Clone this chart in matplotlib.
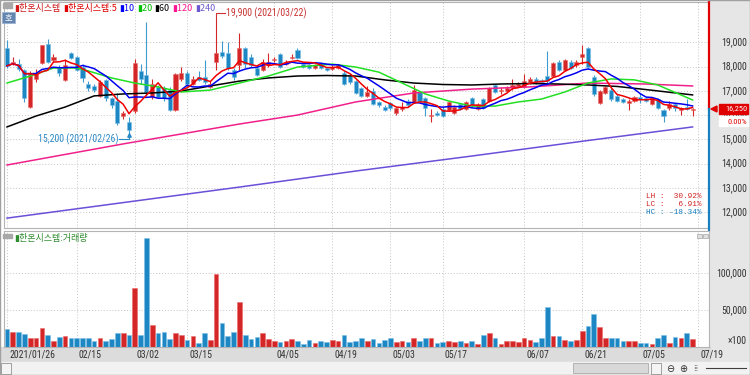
import numpy as np
import pandas as pd
import matplotlib
matplotlib.use('Agg')
import matplotlib.pyplot as plt
from matplotlib.patches import Rectangle, Polygon
from matplotlib import font_manager
from matplotlib.font_manager import FontProperties

# ---------------- data ----------------
start_date = '2021-01-26'
end_date = '2021-07-19'
holidays = ['2021-02-11', '2021-02-12', '2021-03-01', '2021-05-05', '2021-05-19']

opens = [18760, 18150, 18100, 17850, 16350, 17500, 18150, 18950, 18250, 17950,
         17450, 18550, 18400, 17980, 17300, 17200, 16800, 17450, 16700, 16600,
         15950, 15700, 16150, 17800, 17650, 16750, 17150, 17100, 17050, 16200,
         17500, 17750, 17300, 17550, 17560, 17150, 18200, 18600, 18550, 17850,
         18050, 18750, 18400, 17950, 17850, 18050, 18250, 18500, 18100, 18350,
         18700, 18100, 18050, 17950, 18150, 17950, 17900, 17950, 17750, 17600,
         17400, 17100, 16800, 17000, 16550, 16350, 16500, 16100, 16250, 16600,
         16550, 16950, 16700, 15950, 16100, 16250, 16200, 16100, 16450, 16250,
         16700, 16250, 16650, 16600, 17250, 17000, 17000, 17150, 17200, 17150,
         17350, 17500, 17450, 17600, 17600, 18200, 17850, 18200, 18050, 18400,
         18750, 17550, 16500, 16900, 17050, 16800, 16650, 16500, 16600, 16750,
         16700, 16450, 16650, 16200, 16300, 16450, 16200, 16350, 16200]
highs = [19100, 18400, 18300, 17900, 17800, 17900, 18900, 19150, 18500, 18050,
         18300, 18600, 18450, 18100, 17400, 17300, 17450, 17500, 16750, 16900,
         16150, 15900, 18300, 18100, 19850, 17500, 17250, 17200, 17150, 17750,
         18000, 17800, 17600, 17800, 18250, 17400, 19900, 19050, 19000, 17950,
         19400, 18800, 18500, 18050, 18300, 18550, 18400, 18550, 18250, 18500,
         18750, 18150, 18100, 18100, 18200, 18000, 18050, 18100, 17800, 17650,
         17450, 17150, 17200, 17100, 16600, 16400, 16550, 16350, 16550, 16650,
         17250, 17000, 16750, 16250, 16150, 16350, 16600, 16400, 16500, 16600,
         16750, 16500, 16700, 17150, 17300, 17150, 17200, 17500, 17350, 17700,
         17550, 17550, 17500, 18650, 18200, 18250, 18300, 18250, 18250, 18900,
         18800, 17650, 17050, 17200, 17100, 16850, 16700, 16650, 16800, 16900,
         16750, 16750, 16700, 16250, 16600, 16500, 16350, 16650, 16300]
lows = [17950, 18050, 17800, 16550, 16300, 17350, 18100, 18150, 18200, 17600,
        17400, 18300, 17800, 17350, 17000, 16950, 16750, 16600, 16300, 15600,
        15850, 15200, 16100, 17300, 16800, 16650, 16700, 16600, 16150, 16150,
        17400, 17100, 17250, 17400, 17300, 17100, 17850, 18350, 17850, 17450,
        17850, 17950, 18000, 17600, 17800, 18000, 18200, 17950, 18050, 18300,
        18300, 17950, 17900, 17900, 17900, 17800, 17850, 17900, 17250, 17300,
        16850, 16750, 16750, 16400, 16350, 16150, 16200, 16000, 16150, 16350,
        16500, 16550, 15950, 15700, 15950, 15900, 16150, 16050, 16200, 16200,
        16350, 16200, 16250, 16550, 16900, 16850, 16950, 17050, 17150, 17100,
        17300, 17300, 17300, 17300, 17550, 17800, 17800, 17900, 18000, 18100,
        17950, 16800, 16450, 16850, 16600, 16550, 16500, 16200, 16550, 16500,
        16550, 16400, 16250, 15700, 16200, 16150, 16000, 16200, 15950]
closes = [18030, 18200, 17900, 16700, 17700, 17750, 18880, 18200, 18400, 17750,
          18050, 18350, 17850, 17530, 17100, 17050, 17350, 16700, 16400, 15680,
          16100, 15400, 18150, 17500, 16950, 17300, 16750, 16700, 16200, 17700,
          17720, 17300, 17500, 17450, 17350, 17300, 18550, 18420, 17950, 17550,
          18760, 18100, 18060, 17650, 18200, 18180, 18320, 18000, 18150, 18400,
          18350, 18000, 17950, 18050, 17950, 17850, 18000, 18050, 17300, 17350,
          16900, 16800, 16950, 16450, 16400, 16200, 16300, 16300, 16350, 16400,
          17050, 16600, 16300, 16000, 16000, 15950, 16550, 16350, 16250, 16550,
          16400, 16450, 16300, 17100, 16950, 17050, 17100, 17250, 17300, 17400,
          17500, 17350, 17350, 17400, 18150, 17850, 18250, 17950, 18200, 18500,
          18000, 16850, 17000, 17150, 16650, 16600, 16550, 16600, 16750, 16650,
          16600, 16700, 16300, 15950, 16450, 16300, 16300, 16250, 16250]
volumes = [24800, 19700, 20600, 17400, 12800, 11500, 25200, 16500, 8300, 13700,
           15200, 12800, 11500, 12400, 12400, 8700, 11500, 7800, 10600, 18300,
           19300, 16500, 79500, 15600, 147400, 29900, 18900, 20600, 10600, 18300,
           15600, 10100, 14200, 6000, 18300, 10100, 98800, 33000, 14200, 20200,
           61000, 15600, 10600, 13800, 18300, 10600, 7800, 6900, 8300, 10600,
           8300, 4600, 10100, 5500, 7800, 6900, 10100, 7800, 16500, 6900,
           8700, 11500, 8300, 10600, 5500, 10100, 12400, 6900, 8300, 6900,
           11500, 8300, 12400, 12400, 5500, 6900, 7800, 6900, 7800, 5500,
           7800, 4300, 16500, 18300, 11500, 4600, 8300, 8300, 6900, 11500,
           10100, 6900, 12400, 54200, 15200, 14200, 10100, 8300, 10100, 22000,
           28900, 44500, 26600, 11500, 11500, 12800, 8300, 8300, 8300, 5000,
           5000, 4300, 12800, 16500, 5500, 13800, 11500, 18900, 10600]

# long moving averages (candle index, value)
ma20_idx = [0, 4, 8, 12, 14, 18, 22, 26, 30, 35, 40, 45, 50, 56, 60, 64, 68, 72, 76,
            80, 84, 88, 92, 96, 100, 104, 108, 112, 116, 118]
ma20_val = [17320, 17610, 17940, 17940, 17820, 17530, 17320, 17160, 16950, 17030,
            17320, 17610, 17980, 18100, 17980, 17770, 17320, 16870, 16580, 16370,
            16370, 16540, 16660, 16950, 17320, 17490, 17450, 17240, 16830, 16620]
ma60_idx = [0, 5, 10, 15, 20, 25, 30, 35, 40, 45, 50, 55, 60, 65, 70, 75, 80, 85, 90,
            95, 100, 105, 110, 118]
ma60_val = [15510, 15960, 16330, 16790, 16870, 16910, 16990, 17200, 17400, 17530,
            17610, 17630, 17610, 17450, 17320, 17260, 17240, 17280, 17300, 17280,
            17240, 17180, 17050, 16830]
ma120_idx = [0, 20, 30, 40, 50, 60, 70, 80, 90, 100, 110, 118]
ma120_val = [13940, 14810, 15220, 15630, 16000, 16540, 16910, 17070, 17160, 17320,
             17280, 17200]
ma240_idx = [0, 20, 40, 60, 80, 100, 118]
ma240_val = [11750, 12390, 13030, 13690, 14310, 14950, 15510]

price_ticks = [12000, 13000, 14000, 15000, 16000, 17000, 18000, 19000]
volume_ticks = [50000, 100000]
tick_dates = ['2021-01-26', '2021-02-15', '2021-03-02', '2021-03-15', '2021-04-05',
              '2021-04-19', '2021-05-03', '2021-05-17', '2021-06-07', '2021-06-21',
              '2021-07-05', '2021-07-19']
tick_labels = ['2021/01/26', '02/15', '03/02', '03/15', '04/05', '04/19', '05/03',
               '05/17', '06/07', '06/21', '07/05', '07/19']
stock_name = '한온시스템'
legend_items = [('▮' + stock_name, '#d01818'), ('▮' + stock_name + ':5', '#e00000'),
                ('▮10', '#0000ff'), ('▮20', '#00c000'), ('▮60', '#000000'),
                ('▮120', '#ff1493'), ('▮240', '#6a5acd')]
volume_title = '▮' + stock_name + ':거래량'

# ---------------- derived ----------------
days = pd.bdate_range(start_date, end_date)
days = days[~days.isin(pd.to_datetime(holidays))]
n = len(closes)
idx = np.arange(n)
o = np.array(opens); h = np.array(highs); l = np.array(lows); c = np.array(closes)
v = np.array(volumes)
cs = pd.Series(closes)
ma5 = cs.rolling(5, min_periods=1).mean()
ma10 = cs.rolling(10, min_periods=1).mean()
pos = {d.strftime('%Y-%m-%d'): i for i, d in enumerate(days)}
tick_pos = [pos[d] for d in tick_dates]

# ---------------- fonts ----------------
fnames = [f.fname for f in font_manager.fontManager.ttflist]
narrow_file, narrow_size = None, 7.3
for key, size in (('LiberationSansNarrow-Regular', 7.3), ('RobotoCondensed-Regular', 7.0),
                  ('DejaVuSansCondensed.ttf', 6.5)):
    hits = [f for f in fnames if key in f]
    if hits:
        narrow_file, narrow_size = hits[0], size
        break


def numfont(scale=1.0):
    if narrow_file:
        return dict(fontproperties=FontProperties(fname=narrow_file,
                                                  size=narrow_size * scale))
    return dict(family='Liberation Sans', fontsize=6.4 * scale)


MONO = 'Liberation Mono'
KR = ['Noto Sans CJK KR', 'DejaVu Sans']

# ---------------- layout (pixels) ----------------
W, H = 750, 375
PXL, PXR = 4, 709
TOP0, TOP1 = 2, 228
VOL0, VOL1 = 231, 347
X0, STEP = 7.0, 5.81
PY_REF, P_REF, PX_PER_1000 = 42.3, 19000, 24.25


def fx(px):
    return px / W


def fy(py):
    return 1 - py / H


def price_at(py):
    return P_REF - (py - PY_REF) * 1000 / PX_PER_1000


def ax_x(px):
    return (px - PXL) / (PXR - PXL)


RED = '#d42626'
RED_E = '#e86a6a'
BLUE = '#1d87c4'
BLUE_E = '#7cc0e6'

fig = plt.figure(figsize=(7.5, 3.75), dpi=100, facecolor='white')

# background panels (behind the axes)
fig.patches.append(Rectangle((fx(710), 0), fx(40), 1, transform=fig.transFigure,
                             color='#e6e6e6', zorder=-5))
fig.patches.append(Rectangle((0, fy(362)), fx(710), fy(347) - fy(362),
                             transform=fig.transFigure, color='#dcdcdc', zorder=-5))
fig.patches.append(Rectangle((0, 0), 1, fy(362), transform=fig.transFigure,
                             color='#f2f2f2', zorder=-5))

ax = fig.add_axes([fx(PXL), fy(TOP1), fx(PXR - PXL), fy(TOP0) - fy(TOP1)])
axv = fig.add_axes([fx(PXL), fy(VOL1), fx(PXR - PXL), fy(VOL0) - fy(VOL1)])

xlim = ((PXL - X0) / STEP, (PXR - X0) / STEP)
for a in (ax, axv):
    a.set_xlim(*xlim)
    a.set_xticks([])
    a.set_yticks([])
    for s in a.spines.values():
        s.set_color('#b4b4b4')
        s.set_linewidth(0.8)
    for t in tick_pos:
        a.axvline(t, color='#c4c4c4', lw=0.7, ls=(0, (1, 2)), zorder=0)

ax.set_ylim(price_at(TOP1), price_at(TOP0))
vmax = (VOL1 - VOL0) / 74 * 100000
axv.set_ylim(0, vmax)
for p in price_ticks:
    ax.axhline(p, color='#c4c4c4', lw=0.7, ls=(0, (1, 2)), zorder=0)
for vt in volume_ticks:
    axv.axhline(vt, color='#c4c4c4', lw=0.7, ls=(0, (1, 2)), zorder=0)

# candles
bw = 0.7
for i in idx:
    up = c[i] >= o[i]
    col, ec = (RED, RED_E) if up else (BLUE, BLUE_E)
    ax.plot([i, i], [l[i], h[i]], color=col if up else '#3d9bd2', lw=0.8, zorder=2,
            solid_capstyle='butt')
    lo_b, hi_b = min(o[i], c[i]), max(o[i], c[i])
    if hi_b - lo_b < 40:
        ax.plot([i - bw / 2, i + bw / 2], [c[i], c[i]], color=col, lw=1.0, zorder=3)
    else:
        ax.add_patch(Rectangle((i - bw / 2, lo_b), bw, hi_b - lo_b, facecolor=col,
                               edgecolor=ec, lw=0.4, zorder=3))

# moving averages
ax.plot(ma240_idx, ma240_val, color='#6a4fd8', lw=1.1, zorder=4)
ax.plot(ma120_idx, ma120_val, color='#f0208a', lw=1.1, zorder=4)
ax.plot(ma60_idx, ma60_val, color='#000000', lw=1.1, zorder=4)
ax.plot(ma20_idx, ma20_val, color='#22e022', lw=1.1, zorder=4)
ax.plot(idx, ma10, color='#0000f0', lw=1.1, zorder=5)
ax.plot(idx, ma5, color='#f00000', lw=1.1, zorder=6)

# volume bars
vcols = [RED if c[i] >= o[i] else BLUE for i in idx]
vecs = [RED_E if c[i] >= o[i] else BLUE_E for i in idx]
axv.bar(idx, v, width=0.8, color=vcols, edgecolor=vecs, linewidth=0.4, zorder=2)

# right border coloured by current price
last = c[-1]
ax.spines['right'].set_visible(False)
ax.plot([1, 1], [last, price_at(TOP0)], transform=ax.get_yaxis_transform(),
        color='#e00000', lw=1.6, clip_on=False, zorder=7)
ax.plot([1, 1], [price_at(TOP1 + 2), last], transform=ax.get_yaxis_transform(),
        color='#1a7fc0', lw=1.6, clip_on=False, zorder=7)

# price axis labels
for p in price_ticks:
    ax.text(ax_x(747), p, f'{p:,}', transform=ax.get_yaxis_transform(), ha='right',
            va='center', color='#333333', **numfont())
for vt in volume_ticks:
    axv.text(ax_x(747), vt, f'{vt:,}', transform=axv.get_yaxis_transform(), ha='right',
             va='center', color='#333333', **numfont())
axv.text(ax_x(747), 7500, '×100', transform=axv.get_yaxis_transform(), ha='right',
         va='center', color='#333333', **numfont())

# current price marker
ypx = 1000 / PX_PER_1000  # price per pixel
ax.add_patch(Polygon([[ax_x(711), last], [ax_x(717), last + 3 * ypx],
                      [ax_x(717), last - 3 * ypx]],
                     closed=True, transform=ax.get_yaxis_transform(), color='#e00000',
                     clip_on=False, zorder=8))
ax.add_patch(Rectangle((ax_x(719), last - 5 * ypx), ax_x(748) - ax_x(719), 10 * ypx,
                       transform=ax.get_yaxis_transform(), color='#e00000',
                       clip_on=False, zorder=8))
ax.text(ax_x(747), last + 1.0 * ypx, f'{last:,}', transform=ax.get_yaxis_transform(),
        ha='right', va='center', color='white', zorder=9, **numfont(0.85))
chg = (c[-1] - c[-2]) / c[-2] * 100
ax.add_patch(Rectangle((ax_x(719), price_at(126)), ax_x(748) - ax_x(719), 10 * ypx,
                       transform=ax.get_yaxis_transform(), color='white',
                       clip_on=False, zorder=8))
ax.text(ax_x(747), price_at(122), f'{chg:.2f}%', transform=ax.get_yaxis_transform(),
        ha='right', va='center', color='#e00000', zorder=9, **numfont(0.85))

# high / low annotations
ih = int(np.argmax(h)); il = int(np.argmin(l))
hi, lo = h[ih], l[il]
ax.plot([ih, ih, ih + 9 / STEP], [hi, hi + 7.5 * ypx, hi + 7.5 * ypx], color='#d03030',
        lw=0.8, zorder=8)
ax.text(ih + 10 / STEP, hi + 7.5 * ypx, f"{hi:,} ({days[ih].strftime('%Y/%m/%d')})",
        ha='left', va='center', color='#c83030', zorder=9, **numfont())
ax.plot([il, il, il - 10 / STEP], [lo, lo - 4.5 * ypx, lo - 4.5 * ypx], color='#2a8ac8',
        lw=0.8, zorder=8)
ax.plot([il], [lo - 0.8 * ypx], marker='^', ms=2.5, color='#2a8ac8', zorder=8)
ax.text(il - 11 / STEP, lo - 4.5 * ypx, f"{lo:,} ({days[il].strftime('%Y/%m/%d')})",
        ha='right', va='center', color='#2a8ac8', zorder=9, **numfont())

# LH / LC / HC
lh = (hi - lo) / lo * 100
lc = (last - lo) / lo * 100
hc = (last - hi) / hi * 100
for k, (lab, val, col) in enumerate([('LH', lh, '#d02020'), ('LC', lc, '#d02020'),
                                     ('HC', hc, '#1a7fc0')]):
    fig.text(fx(702), fy(197 + 8 * k), f'{lab} : {val:6.2f}%', ha='right', va='center',
             fontsize=5.6, family=MONO, color=col)

# legend (top)
fig.patches.append(Rectangle((fx(3), fy(8)), fx(9), fy(3) - fy(8), transform=fig.transFigure,
                             color='#a8a8a8', zorder=5))
renderer = fig.canvas.get_renderer()
xpos = 14
for txt, col in legend_items:
    t = fig.text(fx(xpos), fy(8), txt, ha='left', va='center', fontsize=6.5, family=KR,
                 color=col)
    bb = t.get_window_extent(renderer=renderer)
    xpos += bb.width + 2.5

fig.patches.append(Rectangle((fx(2), fy(23)), fx(13), fy(12) - fy(23),
                             transform=fig.transFigure, fc='#6485b0', ec='#9ab2d0',
                             lw=0.6, zorder=5))
fig.text(fx(8.5), fy(17.5), '호', ha='center', va='center', fontsize=6, family=KR,
         color='white', zorder=6)

# volume title
fig.patches.append(Rectangle((fx(3), fy(238)), fx(9), fy(234) - fy(238),
                             transform=fig.transFigure, color='#a8a8a8', zorder=5))
fig.text(fx(14), fy(239), volume_title, ha='left', va='center', fontsize=6.5, family=KR,
         color='#2e8b2e')
for bx in (697, 703):
    fig.patches.append(Rectangle((fx(bx), fy(238)), fx(5), fy(234) - fy(238),
                                 transform=fig.transFigure, fc='#e0e0e0', ec='#909090',
                                 lw=0.4, zorder=5))

# date labels
for t, lab in zip(tick_pos, tick_labels):
    px = X0 + t * STEP
    fig.text(fx(px + 2), fy(355), lab, ha='left', va='center', color='#333333',
             **numfont())

# scroll bar decorations
fig.patches.append(Rectangle((fx(1), fy(374)), fx(10), fy(363) - fy(374),
                             transform=fig.transFigure, fc='#f4f4f4', ec='#808080',
                             lw=0.5, zorder=5))
fig.text(fx(6), fy(368.5), '◀', ha='center', va='center', fontsize=4, color='#202020')
fig.patches.append(Rectangle((fx(573), fy(373)), fx(75), fy(363) - fy(373),
                             transform=fig.transFigure, fc='#d8d8d8', ec='#a0a0a0',
                             lw=0.5, zorder=5))
fig.patches.append(Rectangle((fx(651), fy(374)), fx(10), fy(363) - fy(374),
                             transform=fig.transFigure, fc='#f4f4f4', ec='#808080',
                             lw=0.5, zorder=5))
fig.text(fx(656), fy(368.5), '▶', ha='center', va='center', fontsize=4, color='#202020')
fig.text(fx(670), fy(368.5), '⊖', ha='center', va='center', fontsize=7, color='#303030')
fig.text(fx(683), fy(368.5), '⊕', ha='center', va='center', fontsize=7, color='#303030')
fig.text(fx(696), fy(368.5), '⁞⁞', ha='center', va='center', fontsize=6, color='#303030')
fig.lines.append(plt.Line2D([fx(706), fx(746)], [fy(368), fy(368)],
                            transform=fig.transFigure, color='#404040', lw=0.8))

# outer frame
fig.patches.append(Rectangle((0, 0), 1, 1, transform=fig.transFigure, fill=False,
                             ec='#a0a0a0', lw=1.0, zorder=10))

fig.savefig('out.png', dpi=100, facecolor='white')
